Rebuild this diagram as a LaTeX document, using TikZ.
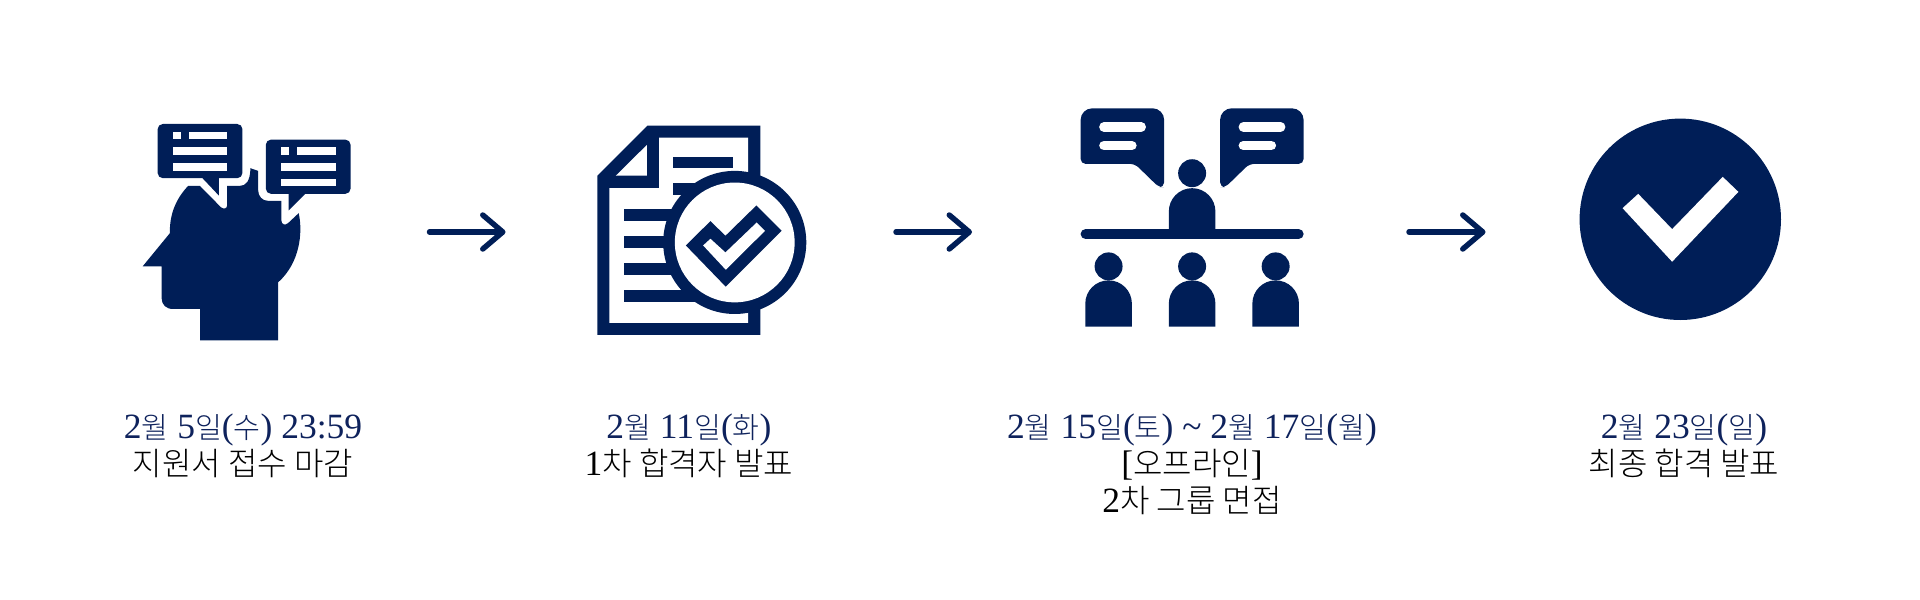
\documentclass[tikz,border=0pt]{standalone}
\usepackage{fontspec}
\setmainfont{Liberation Serif}
\newfontfamily\krfont{Noto Sans CJK KR Light}
\usetikzlibrary{arrows.meta}
\definecolor{iconnavy}{RGB}{0,30,87}
\definecolor{datenavy}{RGB}{14,34,92}
\newcommand{\krdate}[1]{{\fontsize{8.3}{10.5}\krfont #1}}
\newcommand{\krtext}[1]{{\fontsize{9.1}{10.5}\krfont #1}}
\newcommand{\personicon}[4]{
    \fill[icon] (#1,#2) circle[radius=42];
    \fill[icon] (#1-70,#4) -- (#1-70,#3) arc[start angle=180, end angle=360, radius=70] -- (#1+70,#4) -- cycle;
}
\tikzset{
    icon/.style={fill=iconnavy},
    iconcut/.style={fill=white},
    zoomed/.style={x=0.003333cm, y=-0.003333cm},
    flowarrow/.style={draw=iconnavy, line width=1.55pt, line cap=round, -{Straight Barb[round, length=0.2cm, width=0.34cm]}},
    steplabel/.style={align=center, anchor=north, inner sep=0pt, font=\fontsize{10.1}{10.5}\selectfont}
}
\begin{document}
\begin{tikzpicture}[x=0.01cm, y=-0.01cm]
    \useasboundingbox (0,0) rectangle (1920,600);

    % applicant with two speech bubbles
    \begin{scope}[shift={(120,100)}, zoomed]
        \fill[icon] (68,500) -- (150,400) .. controls (148,340) and (172,292) .. (205,258) -- (240,258) -- (303,322) .. controls (312,330) and (322,326) .. (322,316) -- (322,258) -- (360,258) .. controls (378,258) and (391,245) .. (392,205) -- (415,213) -- (415,270) .. controls (415,290) and (428,303) .. (445,303) -- (485,303) -- (485,362) .. controls (485,375) and (497,377) .. (505,370) -- (537,340) .. controls (550,400) and (540,490) .. (475,548) -- (475,722) -- (241,722) -- (241,628) -- (160,628) .. controls (138,628) and (125,615) .. (125,595) -- (125,500) -- cycle;
        \foreach \dx/\dy in {0/0, 325/47} {
            \begin{scope}[shift={(\dx,\dy)}]
                \fill[icon, rounded corners=1.5pt] (113,72) rectangle (368,235);
                \fill[iconcut] (160,95) rectangle (183,118);
                \fill[iconcut] (206,95) rectangle (323,118);
                \fill[iconcut] (160,142) rectangle (323,165);
                \fill[iconcut] (160,189) rectangle (323,212);
            \end{scope}
        }
        \fill[icon] (247,234) -- (297,287) -- (297,234) -- cycle;
        \fill[icon] (507,279) -- (507,332) -- (560,279) -- cycle;
    \end{scope}

    % document under a magnifier
    \begin{scope}[shift={(580,100)}, zoomed]
        \fill[icon] (52,228) -- (203,77) -- (542,77) -- (542,706) -- (52,706) -- cycle;
        \fill[iconcut] (88,265) -- (238,265) -- (238,113) -- (505,113) -- (505,670) -- (88,670) -- cycle;
        \fill[iconcut] (108,227) -- (201,227) -- (201,135) -- cycle;
        \fill[icon] (278,170) rectangle (461,205);
        \fill[icon] (278,250) rectangle (345,285);
        \fill[icon] (132,328) rectangle (290,365);
        \fill[icon] (132,409) rectangle (270,446);
        \fill[icon] (132,490) rectangle (290,526);
        \fill[icon] (132,570) rectangle (345,606);
        \fill[icon] (465,428) circle[radius=215];
        \fill[iconcut] (465,428) circle[radius=180];
        \fill[icon] (318,437) -- (392,364) -- (437,408) -- (530,317) -- (606,393) -- (438,561) -- cycle;
        \fill[iconcut] (370,437) -- (392,417) -- (437,458) -- (531,368) -- (556,393) -- (438,510) -- cycle;
    \end{scope}

    % group interview
    \begin{scope}[shift={(1060,90)}, zoomed]
        \fill[icon] [rounded corners=3.3pt] (62,222) -- (62,55) -- (313,55) -- (313,140) [rounded corners=1.4pt] -- (313,292) -- (297,292) -- (225,222) -- cycle;
        \fill[icon] [rounded corners=3.3pt] (732,222) -- (732,55) -- (481,55) -- (481,140) [rounded corners=1.4pt] -- (481,292) -- (497,292) -- (569,222) -- cycle;
        \foreach \bx in {0,419} {
            \draw[white, line width=2.7pt, line cap=round] (132+\bx,111) -- (244+\bx,111);
            \draw[white, line width=2.7pt, line cap=round] (132+\bx,167) -- (216+\bx,167);
        }
        \personicon{397}{250}{365}{420}
        \draw[iconnavy, line width=2.85pt, line cap=round] (77,433) -- (717,433);
        \foreach \cx in {146,397,648} {
            \personicon{\cx}{530}{642}{711}
        }
    \end{scope}

    % final check mark
    \fill[icon] (1680.3,219.3) circle[radius=100.7];
    \begin{scope}[shift={(1560,100)}, zoomed]
        \fill[iconcut] (188,325) -- (235,282) -- (337,388) -- (489,231) -- (536,276) -- (337,486) -- cycle;
    \end{scope}

    \coordinate (arrowa) at (429.5,232);
    \coordinate (arrowb) at (505.5,232);
    \coordinate (arrowc) at (896,232);
    \coordinate (arrowd) at (972,232);
    \coordinate (arrowe) at (1409,232);
    \coordinate (arrowf) at (1485.5,232);
    \draw[flowarrow] (arrowa) -- (arrowb);
    \draw[flowarrow] (arrowc) -- (arrowd);
    \draw[flowarrow] (arrowe) -- (arrowf);

    \node[steplabel] (deadline) at (243,413) {{\color{datenavy}2\krdate{월} 5\krdate{일}(\krdate{수}) 23:59}\\\krtext{지원서 접수 마감}};
    \node[steplabel] (first) at (689,413) {{\color{datenavy}2\krdate{월} 11\krdate{일}(\krdate{화})}\\1\krtext{차 합격자 발표}};
    \node[steplabel] (second) at (1192,413) {{\color{datenavy}2\krdate{월} 15\krdate{일}(\krdate{토}) \char`\~{} 2\krdate{월} 17\krdate{일}(\krdate{월})}\\{[}\krtext{오프라인}]\\2\krtext{차 그룹 면접}};
    \node[steplabel] (final) at (1684,413) {{\color{datenavy}2\krdate{월} 23\krdate{일}(\krdate{일})}\\\krtext{최종 합격 발표}};
\end{tikzpicture}
\end{document}
